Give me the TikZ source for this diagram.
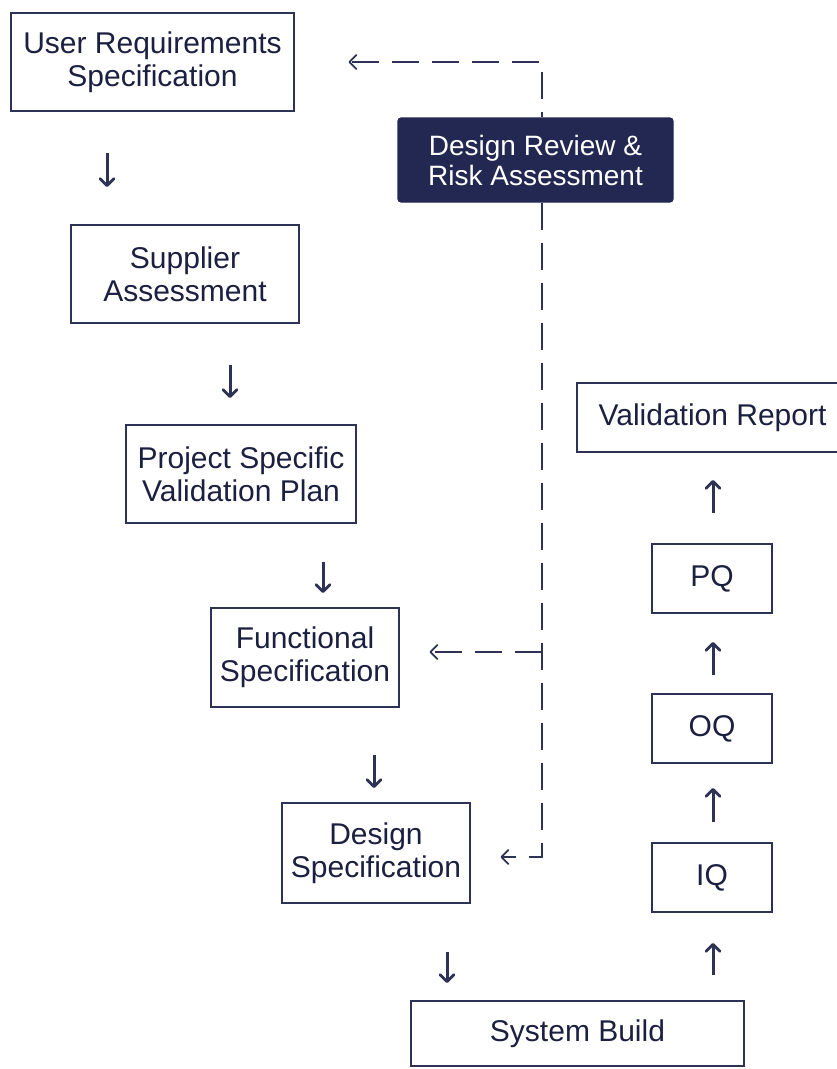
\documentclass[tikz,border=0pt]{standalone}
\usepackage{fontspec}
\setmainfont{Liberation Sans}
\usepackage{tikz}
\usetikzlibrary{arrows.meta}
\definecolor{ink}{RGB}{27,31,64}
\definecolor{edge}{RGB}{46,50,84}
\definecolor{navy}{RGB}{35,40,82}
\tikzset{%
    box/.style={
        draw=edge,
        line width=1.1pt,
        text=ink,
        align=center,
        inner sep=0pt,
        font=\fontsize{30}{33}\selectfont
    },
    darkbox/.style={
        box,
        fill=navy,
        draw=navy,
        rounded corners=3pt,
        text=white,
        font=\fontsize{28}{30}\selectfont
    }
}
\tikzset{flow/.style={draw=edge, line width=3pt, -{Straight Barb[length=7pt,width=14pt,line width=2.8pt,round]}}}
\tikzset{feedback/.style={draw=edge, line width=1.4pt, dash pattern=on 27pt off 13pt, -{Straight Barb[length=7pt,width=14pt,line width=1.8pt,round]}}}

\begin{document}
\begin{tikzpicture}[x=1pt,y=-1pt]
		\useasboundingbox (0,0) rectangle (836,1069);

		% Left column, going down
		\node[box, minimum width=283pt, minimum height=98pt] (urs) at (152.5,62) {User Requirements\\Specification};
		\node[box, minimum width=228pt, minimum height=98pt] (sup) at (185,274) {Supplier\\Assessment};
		\node[box, minimum width=230pt, minimum height=98pt] (psvp) at (241,474) {Project Specific\\Validation Plan};
		\node[box, minimum width=188pt, minimum height=99pt] (fs) at (305,657.5) {Functional\\Specification};
		\node[box, minimum width=188pt, minimum height=100pt] (ds) at (376,853) {Design\\Specification};
		\node[box, minimum width=333pt, minimum height=65pt] (sb) at (577.5,1033.5) {System Build};

		% Right column, going up
		\node[box, minimum width=120pt, minimum height=69pt] (iq) at (712,877.5) {IQ};
		\node[box, minimum width=120pt, minimum height=69pt] (oq) at (712,728.5) {OQ};
		\node[box, minimum width=120pt, minimum height=69pt] (pq) at (712,578.5) {PQ};
		\node[box, minimum width=271pt, minimum height=69pt] (vr) at (712.5,417.5) {Validation Report};

		\node[darkbox, minimum width=275pt, minimum height=84pt] (drr) at (535.5,160) {Design Review \&\\Risk Assessment};

		\coordinate (d1a) at (107,153);		\coordinate (d2a) at (230,365);		\coordinate (d3a) at (323,562);		\coordinate (d4a) at (374,755);		\coordinate (d5a) at (447,952);
		\coordinate (d1b) at (107,187);		\coordinate (d2b) at (230,398);		\coordinate (d3b) at (323,593);		\coordinate (d4b) at (374,788);		\coordinate (d5b) at (447,983);

		\coordinate (u1a) at (713,975);		\coordinate (u2a) at (713,822);		\coordinate (u3a) at (713,675);		\coordinate (u4a) at (713,513);
		\coordinate (u1b) at (713,943);		\coordinate (u2b) at (713,788);		\coordinate (u3b) at (713,642);		\coordinate (u4b) at (713,480);

		\coordinate (fbtop) at (542,62);	\coordinate (fbmid) at (542,652);	\coordinate (fbbot) at (542,857);

		\draw[flow] (d1a) -- (d1b);
		\draw[flow] (d2a) -- (d2b);
		\draw[flow] (d3a) -- (d3b);
		\draw[flow] (d4a) -- (d4b);
		\draw[flow] (d5a) -- (d5b);

		\draw[flow] (u1a) -- (u1b);
		\draw[flow] (u2a) -- (u2b);
		\draw[flow] (u3a) -- (u3b);
		\draw[flow] (u4a) -- (u4b);

		\draw[feedback, dash phase=22pt, shorten >=54pt] (drr.north -| fbtop) -- (fbtop) -- (urs.east |- fbtop);
		\draw[feedback, shorten >=30pt] (drr.south -| fbbot) -- (fbbot) -- (ds.east |- fbbot);
		\draw[feedback, shorten >=30pt] (fbmid) -- (fs.east |- fbmid);
	\end{tikzpicture}
\end{document}
